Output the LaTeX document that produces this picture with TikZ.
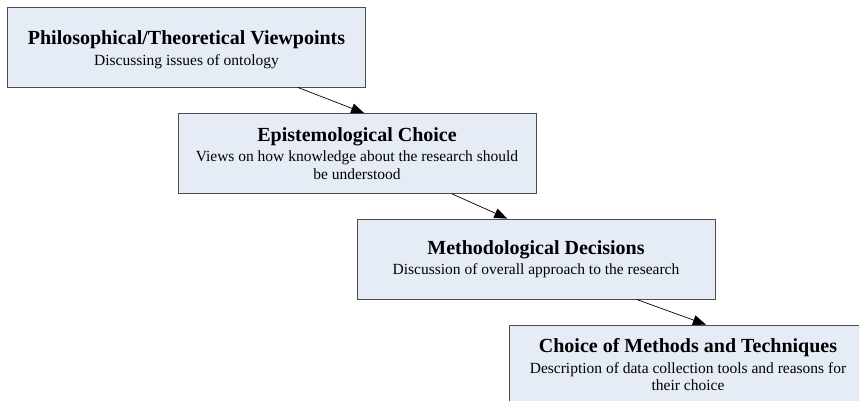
\documentclass[tikz,border=0pt]{standalone}
\usepackage{fontspec}
\setmainfont{Liberation Serif}
\usetikzlibrary{calc,arrows.meta}

\definecolor{stagefill}{HTML}{E6ECF6}
\tikzset{
  stage/.style={draw=black!70, line width=0.8pt, fill=stagefill,
    text width=332pt, inner xsep=13pt, inner ysep=4pt,
    minimum height=80pt, align=flush center,
    font=\fontsize{15.5}{17.5}\selectfont},
  flow/.style={draw=black, line width=0.7pt,
    -{Triangle[length=13pt,width=10pt]}}
}
\newcommand{\stagetitle}[1]{{\fontsize{20}{22}\selectfont\bfseries #1}\\[3pt]}

\begin{document}
\begin{tikzpicture}[x=1pt,y=-1pt]
  \useasboundingbox (0,0) rectangle (859,400);
  \clip (0,0) rectangle (859,400);

  % the first box carries a little extra head room above its title
  \node[stage] (phil) at (186.5,47) {\rule{0pt}{19pt}\stagetitle{Philosophical/Theoretical Viewpoints}Discussing issues of ontology};
  \node[stage] (epis) at (357,153.5) {\stagetitle{Epistemological Choice}Views on how knowledge about the research should be understood};
  \node[stage] (meth) at (536,259) {\stagetitle{Methodological Decisions}Discussion of overall approach to the research};
  \node[stage] (tech) at (688,365) {\stagetitle{Choice of Methods and Techniques}Description of data collection tools and reasons for their choice};

  \draw[flow] ($(phil.south west)!0.81!(phil.south east)$) -- ($(epis.north west)!0.52!(epis.north east)$);
  \draw[flow] ($(epis.south west)!0.765!(epis.south east)$) -- ($(meth.north west)!0.42!(meth.north east)$);
  \draw[flow] ($(meth.south west)!0.78!(meth.south east)$) -- ($(tech.north west)!0.55!(tech.north east)$);
\end{tikzpicture}
\end{document}
